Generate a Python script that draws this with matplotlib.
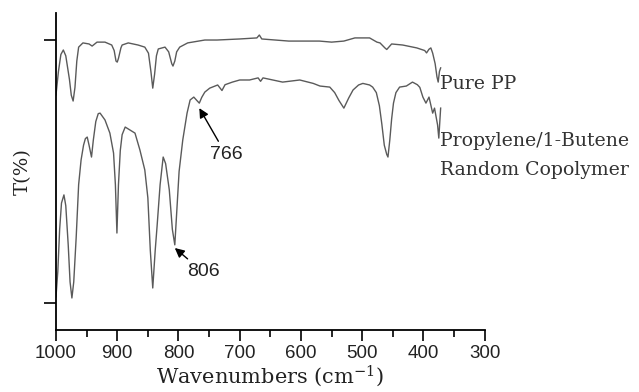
import matplotlib
matplotlib.use('Agg')
import matplotlib.pyplot as plt
import numpy as np

# FTIR transmittance traces (wavenumber in cm-1, transmittance in arbitrary %)
pp_wn = [1000, 996, 992, 988, 984, 978, 975, 972, 969, 966, 963, 956, 946, 941,
         933, 920, 909, 905, 902, 900, 898, 894, 892, 882, 866, 855, 849, 845,
         842, 839, 836, 833, 822, 816, 811, 809, 806, 803, 798, 785, 757, 737,
         700, 672, 668, 664, 620, 570, 550, 530, 512, 488, 476, 471, 463, 460,
         452, 434, 411, 398, 395, 391, 388, 385, 381, 378, 376, 374, 372]
pp_t = [79.1, 88.0, 94.5, 96.2, 94.0, 85.0, 79.0, 76.8, 82.0, 92.0, 97.3, 98.9, 98.5, 97.7,
        99.2, 99.2, 98.1, 96.0, 92.0, 91.6, 93.0, 97.0, 98.1, 98.9, 98.1, 97.3, 95.0, 88.0,
        81.7, 87.0, 94.0, 96.6, 97.3, 95.5, 91.0, 90.1, 92.0, 95.5, 97.3, 98.9, 100.0, 100.0,
        100.4, 100.8, 101.9, 100.4, 99.6, 99.6, 99.2, 99.6, 100.8, 100.8, 99.2, 98.9, 97.0, 96.4,
        98.5, 98.1, 97.0, 96.0, 95.1, 96.5, 97.0, 95.0, 91.0, 86.0, 84.0, 88.0, 89.4]

cop_wn = [1000, 997, 994, 991, 987, 984, 980, 977, 974, 971, 967, 963, 959, 955,
          952, 949, 946, 942, 939, 935, 931, 928, 920, 912, 906, 903, 900.5, 898,
          895, 892, 887, 871, 863, 855, 850, 846, 842, 838, 835, 830, 825, 821,
          815, 810, 806, 803, 799, 793, 786, 781, 775, 770, 766, 762, 757, 749,
          736, 729, 724, 712, 700, 684, 670, 666, 662, 630, 602, 580, 569, 553,
          545, 538, 530, 522, 515, 506, 499, 488, 483, 477, 472, 468, 464, 460,
          458, 455, 452, 449, 445, 439, 428, 418, 410, 406, 401, 396, 391, 385,
          382, 377, 375, 372]
cop_t = [2.3, 12.0, 28.0, 38.0, 41.1, 37.0, 22.0, 8.0, 1.9, 8.0, 25.0, 45.0, 54.4, 60.0,
         62.5, 63.1, 60.0, 55.5, 62.0, 69.0, 72.0, 72.2, 69.6, 64.6, 57.0, 45.0, 26.6, 45.0,
         58.0, 64.0, 66.9, 64.6, 58.2, 50.6, 40.0, 20.0, 5.7, 20.0, 29.0, 45.0, 55.5, 53.0,
         43.0, 28.0, 22.1, 34.0, 50.0, 62.0, 72.2, 77.2, 78.3, 77.0, 76.0, 78.2, 80.2, 81.7,
         82.9, 80.8, 83.0, 84.0, 84.8, 84.8, 85.6, 84.3, 85.6, 84.0, 84.8, 83.5, 82.5, 82.1,
         80.0, 77.0, 74.1, 78.0, 81.0, 82.9, 83.5, 82.9, 82.1, 80.0, 75.0, 68.0, 60.0, 56.5,
         55.5, 62.0, 70.0, 76.0, 80.0, 82.1, 82.5, 84.0, 83.0, 82.0, 78.3, 76.0, 78.3, 72.2,
         74.1, 67.7, 62.7, 74.1]

peak_labels = [766, 806]

plt.rcParams['mathtext.default'] = 'regular'

fig = plt.figure(figsize=(6.39, 3.92), dpi=100)
ax = fig.add_axes([0.0876, 0.158, 0.671, 0.809])

line_color = '#5a5a5a'
ax.plot(pp_wn, pp_t, color=line_color, lw=1.0)
ax.plot(cop_wn, cop_t, color=line_color, lw=1.0)

ax.set_xlim(1000, 300)
ax.set_ylim(-10.3, 110.3)
ax.set_xticks(np.arange(1000, 299, -100))
ax.set_xticks(np.arange(950, 300, -100), minor=True)
ax.set_yticks([0, 100])
ax.set_yticklabels([])

for s in ['top', 'right']:
    ax.spines[s].set_visible(False)
for s in ['left', 'bottom']:
    ax.spines[s].set_linewidth(1.3)

ax.tick_params(axis='x', which='major', length=8, width=1.2, pad=3,
               labelsize=13.5, labelcolor='#222222')
ax.tick_params(axis='x', which='minor', length=5, width=1.2)
ax.tick_params(axis='y', which='major', length=9, width=1.2)
for lab in ax.get_xticklabels():
    lab.set_family('Liberation Sans')

serif = 'DejaVu Serif'
ax.set_xlabel('Wavenumbers (cm$^{-1}$)', family=serif, fontsize=15,
              color='#222222', labelpad=1)
ax.set_ylabel('T(%)', family=serif, fontsize=14, color='#222222', labelpad=5)

# sample names at the right end of each trace
ax.text(373, 83.4, 'Pure PP', family=serif, fontsize=13.6, color='#333333',
        ha='left', va='center')
ax.text(373, 61.6, 'Propylene/1-Butene', family=serif, fontsize=13.6,
        color='#333333', ha='left', va='center')
ax.text(373, 50.6, 'Random Copolymer', family=serif, fontsize=13.6,
        color='#333333', ha='left', va='center')

# arrows marking the butene bands
arrow = dict(arrowstyle='-|>', color='black', lw=1.0, mutation_scale=14,
             shrinkA=2, shrinkB=0)
ax.annotate(str(peak_labels[0]), xy=(peak_labels[0], 74.1), xytext=(722, 56.3),
            family='Liberation Sans', fontsize=14, color='#222222',
            ha='center', va='center', arrowprops=arrow)
ax.annotate(str(peak_labels[1]), xy=(peak_labels[1], 20.9), xytext=(760, 11.8),
            family='Liberation Sans', fontsize=14, color='#222222',
            ha='center', va='center', arrowprops=arrow)

fig.savefig('out.png', dpi=100)
